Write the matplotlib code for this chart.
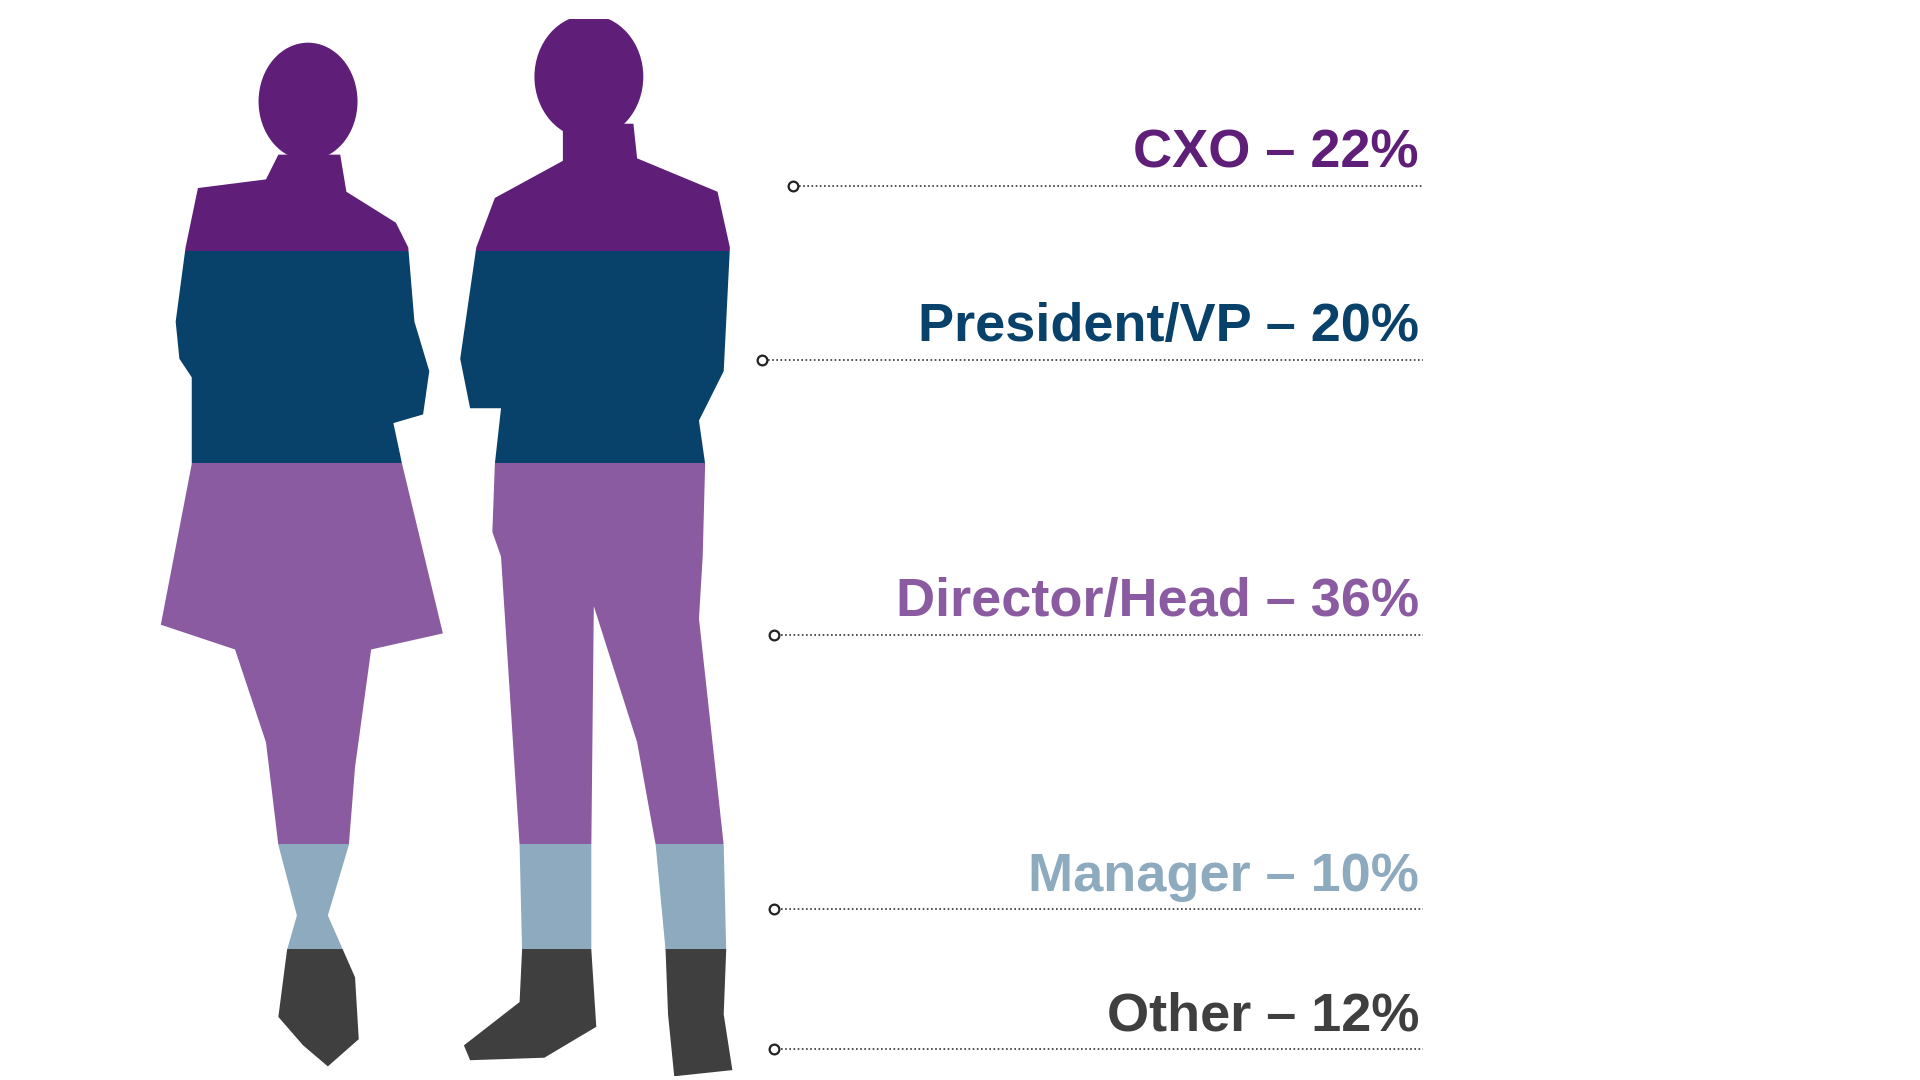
import matplotlib.pyplot as plt
from matplotlib.patches import Polygon, Ellipse, Rectangle
import numpy as np

labels = ["CXO", "President/VP", "Director/Head", "Manager", "Other"]
shares = [22, 20, 36, 10, 12]
colors = ["#5f1f78", "#08416a", "#8a5ba0", "#8eaabe", "#3f3f3f"]
line_y = [150, 291, 513, 735, 848]
dot_x = [641, 616, 626, 626, 626]

W, H = 1552, 873
fig = plt.figure(figsize=(19.2, 10.8), dpi=100)
ax = fig.add_axes([0, 0, 1, 1])
ax.set_xlim(0, W)
ax.set_ylim(H, 0)
ax.axis("off")

woman = [(225, 125), (275, 125), (280, 155), (320, 180), (330, 200), (335, 260), (347, 300),
         (342, 335), (318, 342), (325, 375), (358, 512), (300, 525), (287, 620), (282, 683),
         (265, 740), (287, 790), (290, 840), (265, 862), (245, 845), (225, 822), (232, 768),
         (240, 740), (225, 683), (215, 600), (190, 525), (130, 505), (155, 375), (155, 305),
         (145, 290), (142, 260), (150, 200), (160, 152), (215, 145)]
man = [(455, 100), (512, 100), (515, 128), (580, 155), (590, 200), (585, 300), (565, 340),
       (570, 375), (568, 450), (565, 500), (585, 683), (587, 768), (585, 820), (592, 865),
       (545, 870), (540, 820), (538, 768), (530, 683), (515, 600), (480, 490), (478, 683),
       (478, 768), (482, 830), (440, 855), (380, 857), (375, 845), (420, 810), (422, 768),
       (420, 683), (405, 450), (398, 430), (400, 375), (405, 330), (380, 330), (372, 290),
       (385, 200), (400, 160), (455, 130)]
heads = [((249, 82), 80, 95), ((476, 62), 88, 100)]

top, bottom = 15, 870
edges = top + np.concatenate([[0], np.cumsum(shares)]) / sum(shares) * (bottom - top)

shapes = [Polygon(woman, closed=True), Polygon(man, closed=True)]
shapes += [Ellipse(c, w, h) for c, w, h in heads]
for shp in shapes:
    shp.set_transform(ax.transData)
    for i, col in enumerate(colors):
        r = Rectangle((100, edges[i]), 520, edges[i + 1] - edges[i], color=col, lw=0)
        ax.add_patch(r)
        r.set_clip_path(shp)

for lab, share, col, y, x0 in zip(labels, shares, colors, line_y, dot_x):
    ax.plot([x0 + 5, 1150], [y, y], color="#333333", lw=1.2, ls=(0, (1, 1.5)))
    ax.plot([x0], [y], marker="o", ms=7, mfc="white", mec="#222222", mew=1.6)
    ax.text(1147, y - 15, f"{lab} – {share}%", ha="right", va="baseline",
            fontsize=39, fontweight="bold", color=col, family="Liberation Sans")

fig.savefig("out.png", dpi=100, facecolor="white")
